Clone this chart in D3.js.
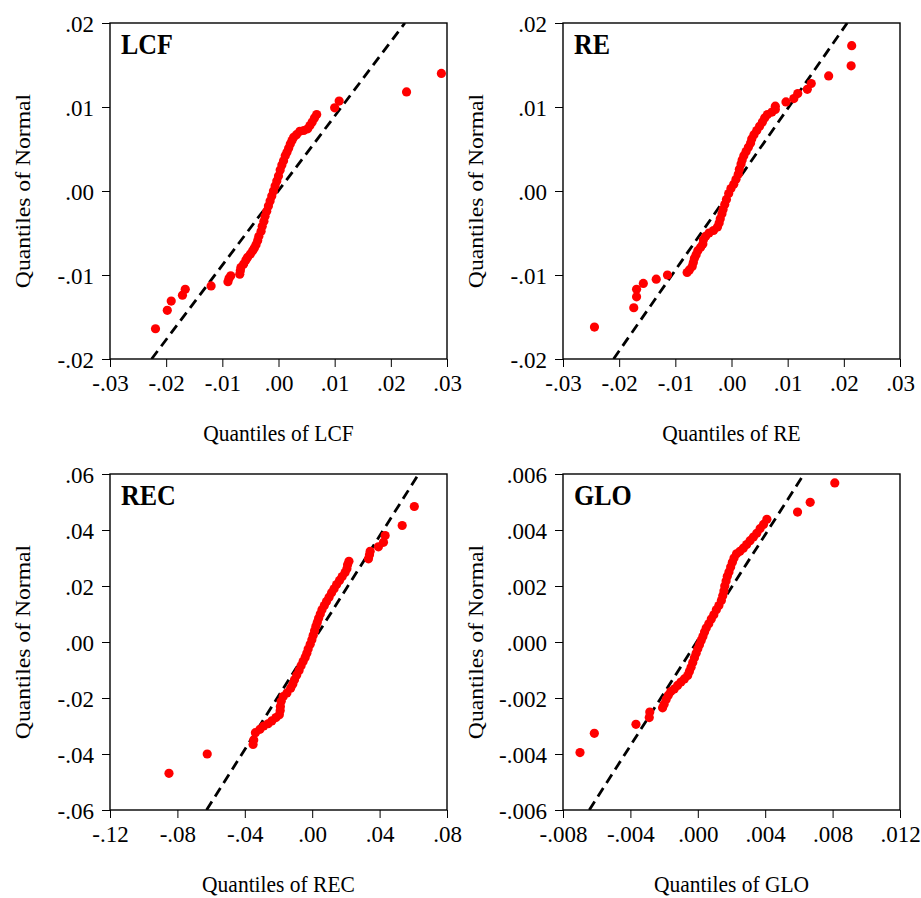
<!DOCTYPE html>
<html>
<head>
<meta charset="utf-8">
<script src="https://d3js.org/d3.v7.min.js"></script>
<style>
  body { margin: 0; background: #fff; }
  text { font-family: "Liberation Serif", "Times New Roman", serif; fill: #000; }
</style>
</head>
<body>
<div id="chart"></div>
<script>
// quantile pairs: [quantile of series, quantile of normal]
var lcfPts = [
  [-0.0219,-0.0164],[-0.0198,-0.0142],[-0.0191,-0.0131],[-0.0171,-0.0124],[-0.0166,-0.0117],[-0.0120,-0.0113],
  [-0.0090,-0.0108],[-0.0088,-0.0104],[-0.0085,-0.0101],
  [-0.0069,-0.0099],[-0.0068,-0.0095],[-0.0067,-0.0091],[-0.0062,-0.0087],[-0.0058,-0.0082],[-0.0055,-0.0079],
  [-0.0050,-0.0075],[-0.0046,-0.0071],[-0.0043,-0.0068],[-0.0040,-0.0064],[-0.0037,-0.0059],[-0.0035,-0.0054],
  [-0.0031,-0.0048],[-0.0029,-0.0042],[-0.0026,-0.0036],[-0.0024,-0.0030],[-0.0021,-0.0024],[-0.0018,-0.0018],
  [-0.0015,-0.0012],[-0.0012,-0.0006],[-0.0009,0.0000],[-0.0006,0.0006],[-0.0003,0.0012],[0.0000,0.0018],
  [0.0003,0.0025],[0.0006,0.0031],[0.0009,0.0036],[0.0012,0.0042],[0.0015,0.0046],[0.0018,0.0051],
  [0.0021,0.0056],[0.0024,0.0060],[0.0027,0.0064],[0.0032,0.0067],[0.0038,0.0071],[0.0045,0.0072],
  [0.0052,0.0074],[0.0056,0.0078],[0.0060,0.0082],[0.0064,0.0087],[0.0068,0.0091],
  [0.0100,0.0099],[0.0108,0.0107],[0.0228,0.0118],[0.0290,0.0140]
];
var rePts = [
  [-0.0244,-0.0162],[-0.0174,-0.0139],[-0.0169,-0.0126],[-0.0169,-0.0117],[-0.0157,-0.0110],[-0.0134,-0.0105],
  [-0.0114,-0.0100],
  [-0.0079,-0.0097],[-0.0075,-0.0094],[-0.0070,-0.0090],[-0.0068,-0.0085],[-0.0066,-0.0080],[-0.0063,-0.0076],
  [-0.0060,-0.0071],[-0.0055,-0.0067],[-0.0051,-0.0063],[-0.0050,-0.0058],[-0.0046,-0.0054],[-0.0040,-0.0050],
  [-0.0032,-0.0047],[-0.0025,-0.0043],[-0.0022,-0.0038],[-0.0020,-0.0033],[-0.0017,-0.0027],[-0.0015,-0.0022],
  [-0.0012,-0.0016],[-0.0009,-0.0010],[-0.0005,-0.0003],[-0.0001,0.0003],[0.0004,0.0008],[0.0008,0.0014],
  [0.0012,0.0020],[0.0014,0.0026],[0.0017,0.0032],[0.0019,0.0037],[0.0022,0.0042],[0.0026,0.0047],
  [0.0030,0.0052],[0.0034,0.0057],[0.0036,0.0062],[0.0040,0.0067],[0.0045,0.0072],[0.0050,0.0077],
  [0.0055,0.0082],[0.0059,0.0087],[0.0064,0.0091],[0.0072,0.0094],[0.0078,0.0097],[0.0078,0.0101],
  [0.0097,0.0106],[0.0111,0.0110],[0.0118,0.0116],[0.0135,0.0121],[0.0142,0.0128],[0.0173,0.0137],
  [0.0213,0.0149],[0.0214,0.0173]
];
var recPts = [
  [-0.0850,-0.0469],[-0.0623,-0.0400],[-0.0351,-0.0366],[-0.0347,-0.0350],[-0.0337,-0.0324],[-0.0310,-0.0312],
  [-0.0288,-0.0300],[-0.0262,-0.0292],[-0.0240,-0.0282],[-0.0215,-0.0270],[-0.0195,-0.0260],[-0.0190,-0.0245],
  [-0.0189,-0.0230],[-0.0184,-0.0212],[-0.0172,-0.0195],[-0.0150,-0.0182],[-0.0128,-0.0165],[-0.0115,-0.0150],
  [-0.0105,-0.0135],[-0.0092,-0.0118],[-0.0078,-0.0102],[-0.0066,-0.0085],[-0.0054,-0.0070],[-0.0042,-0.0055],
  [-0.0032,-0.0040],[-0.0024,-0.0025],[-0.0012,-0.0008],[-0.0002,0.0008],[0.0006,0.0024],[0.0014,0.0040],
  [0.0022,0.0056],[0.0030,0.0070],[0.0038,0.0085],[0.0048,0.0100],[0.0058,0.0115],[0.0072,0.0130],
  [0.0085,0.0145],[0.0100,0.0160],[0.0115,0.0176],[0.0130,0.0190],[0.0145,0.0205],[0.0162,0.0220],
  [0.0178,0.0234],[0.0195,0.0248],[0.0206,0.0262],[0.0210,0.0276],[0.0218,0.0288],
  [0.0334,0.0297],[0.0340,0.0312],[0.0344,0.0324],[0.0393,0.0340],[0.0423,0.0356],[0.0433,0.0380],
  [0.0534,0.0416],[0.0606,0.0484]
];
var gloPts = [
  [-0.00699,-0.00395],[-0.00614,-0.00326],[-0.00367,-0.00294],[-0.00288,-0.00270],[-0.00285,-0.00250],
  [-0.00209,-0.00235],[-0.00200,-0.00222],[-0.00188,-0.00205],[-0.00175,-0.00190],[-0.00160,-0.00177],
  [-0.00140,-0.00168],[-0.00120,-0.00155],[-0.00100,-0.00143],[-0.00080,-0.00132],[-0.00060,-0.00120],
  [-0.00050,-0.00105],[-0.00040,-0.00090],[-0.00030,-0.00073],[-0.00020,-0.00056],[-0.00010,-0.00040],
  [0.00000,-0.00024],[0.00010,-0.00010],[0.00020,0.00005],[0.00030,0.00020],[0.00040,0.00036],
  [0.00050,0.00050],[0.00065,0.00065],[0.00080,0.00082],[0.00095,0.00097],[0.00110,0.00115],
  [0.00125,0.00130],[0.00140,0.00148],[0.00148,0.00165],[0.00155,0.00182],[0.00160,0.00200],
  [0.00168,0.00218],[0.00175,0.00235],[0.00185,0.00250],[0.00195,0.00268],[0.00205,0.00285],
  [0.00215,0.00300],[0.00230,0.00315],[0.00250,0.00324],[0.00270,0.00335],[0.00290,0.00348],
  [0.00310,0.00362],[0.00330,0.00375],[0.00350,0.00388],[0.00370,0.00405],[0.00390,0.00420],
  [0.00410,0.00438],[0.00592,0.00464],[0.00667,0.00499],[0.00813,0.00568]
];

// reference (normal) lines, two end points each
var lcfLine = [[-0.0226,-0.02],[0.0225,0.02]];
var reLine  = [[-0.0210,-0.02],[0.0206,0.02]];
var recLine = [[-0.0627,-0.06],[0.0632,0.06]];
var gloLine = [[-0.00644,-0.006],[0.0063,0.006]];

// ticks and labels
var lcfXTicks = [-0.03,-0.02,-0.01,0,0.01,0.02,0.03];
var lcfXLabels = ["-.03","-.02","-.01",".00",".01",".02",".03"];
var lcfYTicks = [-0.02,-0.01,0,0.01,0.02];
var lcfYLabels = ["-.02","-.01",".00",".01",".02"];
var recXTicks = [-0.12,-0.08,-0.04,0,0.04,0.08];
var recXLabels = ["-.12","-.08","-.04",".00",".04",".08"];
var recYTicks = [-0.06,-0.04,-0.02,0,0.02,0.04,0.06];
var recYLabels = ["-.06","-.04","-.02",".00",".02",".04",".06"];
var gloXTicks = [-0.008,-0.004,0,0.004,0.008,0.012];
var gloXLabels = ["-.008","-.004",".000",".004",".008",".012"];
var gloYTicks = [-0.006,-0.004,-0.002,0,0.002,0.004,0.006];
var gloYLabels = ["-.006","-.004","-.002",".000",".002",".004",".006"];

var names = ["LCF", "RE", "REC", "GLO"];

var panels = [
  {name: names[0], pts: lcfPts, line: lcfLine, xt: lcfXTicks, xl: lcfXLabels, yt: lcfYTicks, yl: lcfYLabels, x0: 110, y0: 23},
  {name: names[1], pts: rePts,  line: reLine,  xt: lcfXTicks, xl: lcfXLabels, yt: lcfYTicks, yl: lcfYLabels, x0: 563, y0: 23},
  {name: names[2], pts: recPts, line: recLine, xt: recXTicks, xl: recXLabels, yt: recYTicks, yl: recYLabels, x0: 110, y0: 474},
  {name: names[3], pts: gloPts, line: gloLine, xt: gloXTicks, xl: gloXLabels, yt: gloYTicks, yl: gloYLabels, x0: 563, y0: 474}
];

var pw = 337, ph = 336;

var svg = d3.select("#chart").append("svg")
  .attr("width", 921)
  .attr("height", 898);

panels.forEach(function(p, i) {
  var x = d3.scaleLinear().domain([p.xt[0], p.xt[p.xt.length - 1]]).range([0, pw]);
  var y = d3.scaleLinear().domain([p.yt[0], p.yt[p.yt.length - 1]]).range([ph, 0]);

  var g = svg.append("g").attr("transform", "translate(" + p.x0 + "," + p.y0 + ")");

  g.append("clipPath").attr("id", "clip-" + i)
    .append("rect").attr("width", pw).attr("height", ph);

  // axes with tick marks outside the frame
  var xAxis = d3.axisBottom(x).tickValues(p.xt).tickSize(8).tickSizeOuter(0)
    .tickFormat(function(d, j) { return p.xl[j]; });
  var yAxis = d3.axisLeft(y).tickValues(p.yt).tickSize(8).tickSizeOuter(0)
    .tickFormat(function(d, j) { return p.yl[j]; });

  var gx = g.append("g").attr("transform", "translate(0," + ph + ")").call(xAxis);
  var gy = g.append("g").call(yAxis);
  [gx, gy].forEach(function(a) {
    a.attr("font-family", null).attr("font-size", null);
    a.select(".domain").remove();
    a.selectAll(".tick line").attr("stroke", "#000").attr("stroke-width", 1);
    a.selectAll(".tick text")
      .style("font-family", "'Liberation Serif', serif")
      .style("font-size", "23px")
      .attr("fill", "#000");
  });
  gx.selectAll(".tick text").attr("y", 16).attr("dy", "0.71em");
  gy.selectAll(".tick text").attr("x", -16).attr("dy", "0.35em");

  // dashed normal line
  g.append("path")
    .datum(p.line)
    .attr("clip-path", "url(#clip-" + i + ")")
    .attr("d", d3.line().x(function(d) { return x(d[0]); }).y(function(d) { return y(d[1]); }))
    .attr("fill", "none")
    .attr("stroke", "#000")
    .attr("stroke-width", 2.8)
    .attr("stroke-dasharray", "10,6");

  // quantile points
  g.append("g").selectAll("circle")
    .data(p.pts)
    .enter().append("circle")
    .attr("cx", function(d) { return x(d[0]); })
    .attr("cy", function(d) { return y(d[1]); })
    .attr("r", 4.6)
    .attr("fill", "#ff0000");

  // frame
  g.append("rect")
    .attr("width", pw).attr("height", ph)
    .attr("fill", "none")
    .attr("stroke", "#000")
    .attr("stroke-width", 1.4);

  // panel name
  g.append("text")
    .attr("transform", "translate(11,31) scale(1,1.12)")
    .style("font-size", "26px")
    .style("font-weight", "bold")
    .text(p.name);

  // axis titles
  g.append("text")
    .attr("transform", "translate(" + (pw / 2) + "," + (ph + 82) + ") scale(1,1.12)")
    .attr("text-anchor", "middle")
    .style("font-size", "21.5px")
    .text("Quantiles of " + p.name);

  g.append("text")
    .attr("transform", "translate(-80," + (ph / 2) + ") rotate(-90) scale(1.1,1)")
    .attr("text-anchor", "middle")
    .style("font-size", "21.5px")
    .text("Quantiles of Normal");
});
</script>
</body>
</html>
